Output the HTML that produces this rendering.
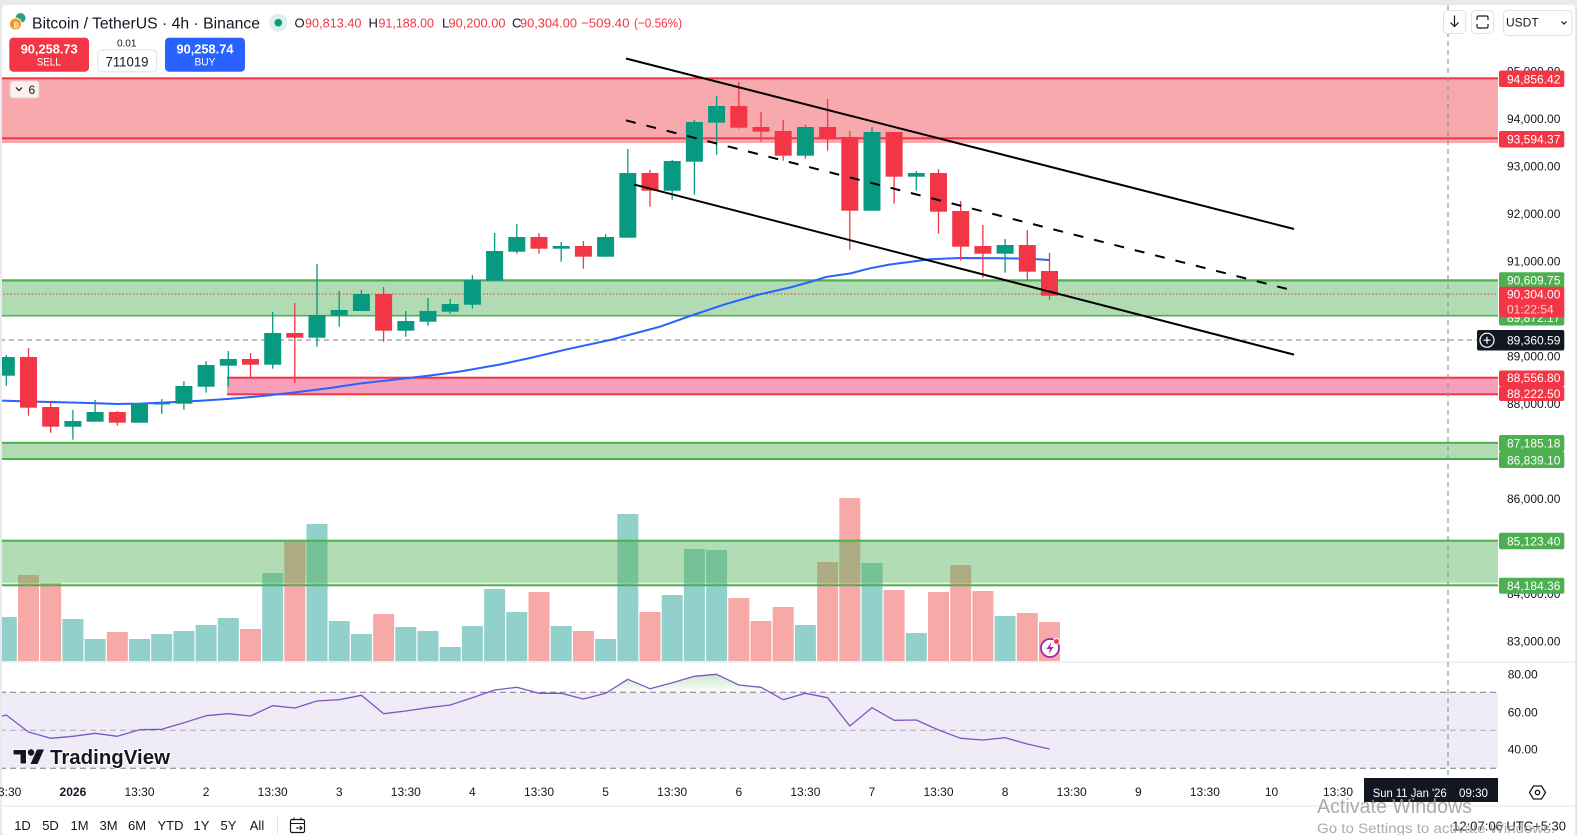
<!DOCTYPE html>
<html><head><meta charset="utf-8"><style>
html,body{margin:0;padding:0;width:1577px;height:835px;overflow:hidden;background:#fff}
svg{display:block}
text{font-family:"Liberation Sans",Arial,sans-serif}
</style></head><body>
<svg width="1577" height="835" viewBox="0 0 1577 835" xmlns="http://www.w3.org/2000/svg">
<defs>
<clipPath id="cp"><rect x="2" y="5" width="1496" height="657"/></clipPath>
<clipPath id="cr"><rect x="2" y="663" width="1496" height="107"/></clipPath>
<clipPath id="ob"><rect x="0" y="660" width="1498" height="32.3"/></clipPath>
<linearGradient id="og" gradientUnits="userSpaceOnUse" x1="0" y1="672" x2="0" y2="692.3">
<stop offset="0" stop-color="#4caf50" stop-opacity="0.32"/><stop offset="1" stop-color="#4caf50" stop-opacity="0.02"/></linearGradient>
</defs>
<rect x="0" y="0" width="1577" height="835" fill="#e9eaec"/>
<rect x="2" y="5" width="1573" height="830" rx="4" fill="#fff"/>

<g clip-path="url(#cp)">
<!-- volume -->
<g fill="#92d1cb">
<rect x="-4.2" y="617" width="21" height="44"/>
<rect x="62.4" y="619" width="21" height="42"/>
<rect x="84.6" y="639" width="21" height="22"/>
<rect x="129" y="639" width="21" height="22"/>
<rect x="151.2" y="634" width="21" height="27"/>
<rect x="173.4" y="631" width="21" height="30"/>
<rect x="195.6" y="625" width="21" height="36"/>
<rect x="217.8" y="618" width="21" height="43"/>
<rect x="262.2" y="573" width="21" height="88"/>
<rect x="306.5" y="524" width="21" height="137"/>
<rect x="328.7" y="621" width="21" height="40"/>
<rect x="350.9" y="634" width="21" height="27"/>
<rect x="395.3" y="627" width="21" height="34"/>
<rect x="417.5" y="631" width="21" height="30"/>
<rect x="439.7" y="647" width="21" height="14"/>
<rect x="461.9" y="626" width="21" height="35"/>
<rect x="484.1" y="589" width="21" height="72"/>
<rect x="506.3" y="612" width="21" height="49"/>
<rect x="550.7" y="626" width="21" height="35"/>
<rect x="595.1" y="639" width="21" height="22"/>
<rect x="617.3" y="514" width="21" height="147"/>
<rect x="661.7" y="595" width="21" height="66"/>
<rect x="683.9" y="549" width="21" height="112"/>
<rect x="706.1" y="550" width="21" height="111"/>
<rect x="794.9" y="625" width="21" height="36"/>
<rect x="861.5" y="563" width="21" height="98"/>
<rect x="905.8" y="633" width="21" height="28"/>
<rect x="994.6" y="616" width="21" height="45"/>
</g>
<g fill="#f7a9a8">
<rect x="18" y="575" width="21" height="86"/>
<rect x="40.2" y="583" width="21" height="78"/>
<rect x="106.8" y="632" width="21" height="29"/>
<rect x="240" y="629" width="21" height="32"/>
<rect x="284.3" y="541.7" width="21" height="119.3"/>
<rect x="373.1" y="614" width="21" height="47"/>
<rect x="528.5" y="592" width="21" height="69"/>
<rect x="572.9" y="631" width="21" height="30"/>
<rect x="639.5" y="612" width="21" height="49"/>
<rect x="728.3" y="598" width="21" height="63"/>
<rect x="750.5" y="621" width="21" height="40"/>
<rect x="772.7" y="607" width="21" height="54"/>
<rect x="817.1" y="562" width="21" height="99"/>
<rect x="839.3" y="498" width="21" height="163"/>
<rect x="883.6" y="590" width="21" height="71"/>
<rect x="928" y="592" width="21" height="69"/>
<rect x="950.2" y="565" width="21" height="96"/>
<rect x="972.4" y="591" width="21" height="70"/>
<rect x="1016.8" y="613" width="21" height="48"/>
<rect x="1039" y="622" width="21" height="39"/>
</g>

<!-- zones -->
<rect x="0" y="79" width="1498" height="64" fill="#f8a9ae"/>
<rect x="0" y="77.3" width="1498" height="2" fill="#f23645"/>
<rect x="0" y="137.3" width="1498" height="2" fill="#f23645"/>

<rect x="0" y="279" width="1498" height="35" fill="#b1dcb3"/>
<rect x="0" y="279.5" width="1498" height="2" fill="#4caf50"/>
<rect x="0" y="314.5" width="1498" height="2" fill="#4caf50"/>

<rect x="227" y="378" width="1271" height="16" fill="#f59fba"/>
<rect x="227" y="376.7" width="1271" height="2" fill="#f23645"/>
<rect x="227" y="393.3" width="1271" height="2" fill="#f23645"/>

<rect x="0" y="442" width="1498" height="16.5" fill="#b1dcb3"/>
<rect x="0" y="441.8" width="1498" height="2" fill="#4caf50"/>
<rect x="0" y="458" width="1498" height="2" fill="#4caf50"/>

<rect x="0" y="541" width="1498" height="41.7" fill="#4caf50" fill-opacity="0.43"/>
<rect x="0" y="582.7" width="1498" height="2" fill="#4caf50" fill-opacity="0.12"/>
<rect x="0" y="539.7" width="1498" height="2" fill="#4caf50"/>
<rect x="0" y="584.3" width="1498" height="2" fill="#4caf50"/>

<!-- price line & crosshair -->
<line x1="0" y1="294" x2="1498" y2="294" stroke="#f23645" stroke-width="1" stroke-dasharray="1.5 2"/>
<line x1="0" y1="340" x2="1477" y2="340" stroke="#9598a1" stroke-width="1.2" stroke-dasharray="5 4"/>

<!-- MA -->
<polyline fill="none" stroke="#2962ff" stroke-width="2" stroke-linejoin="round" points="0,400.5 30,401.5 60,402.3 90,403 117,404 140,403.6 170,402.3 200,400.8 227,399 260,396.3 290,393 330,388 360,383.5 400,379 430,375.5 460,371.5 500,364.5 530,358 567,349.3 610,340 640,332 660,326.7 690,316 725,304.3 757,295 790,287.5 810,282 827,276.7 850,273.5 870,268.3 890,264.5 917,261 930,259.3 960,258 1000,258.3 1030,258.7 1049,260"/>

<!-- candles green -->
<g fill="#089981">
<rect x="5.65" y="355" width="1.3" height="30.7"/><rect x="-2.2" y="357" width="17" height="18.7"/>
<rect x="72.25" y="410" width="1.3" height="29.7"/><rect x="64.4" y="421" width="17" height="5.7"/>
<rect x="94.45" y="400" width="1.3" height="21.7"/><rect x="86.6" y="412" width="17" height="9.7"/>
<rect x="138.85" y="403" width="1.3" height="19.7"/><rect x="131" y="403" width="17" height="19.7"/>
<rect x="161.05" y="399" width="1.3" height="14.7"/><rect x="153.2" y="403" width="17" height="1.5"/>
<rect x="183.25" y="381" width="1.3" height="28.7"/><rect x="175.4" y="386" width="17" height="17.7"/>
<rect x="205.45" y="361" width="1.3" height="31.7"/><rect x="197.6" y="365" width="17" height="21.7"/>
<rect x="227.65" y="351" width="1.3" height="35.7"/><rect x="219.8" y="359" width="17" height="6.7"/>
<rect x="272.05" y="312" width="1.3" height="56.7"/><rect x="264.2" y="333" width="17" height="31.7"/>
<rect x="316.35" y="264" width="1.3" height="82.7"/><rect x="308.5" y="315" width="17" height="22.7"/>
<rect x="338.55" y="291" width="1.3" height="35.7"/><rect x="330.7" y="310" width="17" height="5.7"/>
<rect x="360.75" y="290" width="1.3" height="21"/><rect x="352.9" y="294" width="17" height="17"/>
<rect x="405.15" y="311" width="1.3" height="25.7"/><rect x="397.3" y="321" width="17" height="9.7"/>
<rect x="427.35" y="298" width="1.3" height="27.7"/><rect x="419.5" y="311" width="17" height="10.7"/>
<rect x="449.55" y="299" width="1.3" height="14.7"/><rect x="441.7" y="304" width="17" height="7.7"/>
<rect x="471.75" y="275" width="1.3" height="33.7"/><rect x="463.9" y="280" width="17" height="24.7"/>
<rect x="493.95" y="233" width="1.3" height="47.7"/><rect x="486.1" y="251" width="17" height="29.7"/>
<rect x="516.15" y="224" width="1.3" height="29.7"/><rect x="508.3" y="237" width="17" height="14.7"/>
<rect x="560.55" y="242" width="1.3" height="19.7"/><rect x="552.7" y="246" width="17" height="2.7"/>
<rect x="604.95" y="234" width="1.3" height="22.7"/><rect x="597.1" y="237" width="17" height="19.7"/>
<rect x="627.15" y="149" width="1.3" height="88.7"/><rect x="619.3" y="173" width="17" height="64.7"/>
<rect x="671.55" y="160" width="1.3" height="39.7"/><rect x="663.7" y="161" width="17" height="29.7"/>
<rect x="693.75" y="120" width="1.3" height="74.7"/><rect x="685.9" y="122" width="17" height="39.7"/>
<rect x="715.95" y="96" width="1.3" height="58.7"/><rect x="708.1" y="106" width="17" height="16.7"/>
<rect x="804.75" y="125" width="1.3" height="33.7"/><rect x="796.9" y="127" width="17" height="28.7"/>
<rect x="871.35" y="127" width="1.3" height="83.7"/><rect x="863.5" y="132" width="17" height="78.7"/>
<rect x="915.65" y="171" width="1.3" height="19.7"/><rect x="907.8" y="173" width="17" height="3.7"/>
<rect x="1004.45" y="239" width="1.3" height="33.7"/><rect x="996.6" y="245" width="17" height="8.7"/>
</g>
<!-- candles red -->
<g fill="#f23645">
<rect x="27.85" y="348" width="1.3" height="67.7"/><rect x="20" y="357" width="17" height="50.7"/>
<rect x="50.05" y="402" width="1.3" height="30.7"/><rect x="42.2" y="407" width="17" height="19.7"/>
<rect x="116.65" y="411" width="1.3" height="14.7"/><rect x="108.8" y="412" width="17" height="10.7"/>
<rect x="249.85" y="353" width="1.3" height="24.7"/><rect x="242" y="359" width="17" height="5.7"/>
<rect x="294.15" y="303" width="1.3" height="79.7"/><rect x="286.3" y="333" width="17" height="4.7"/>
<rect x="382.95" y="287" width="1.3" height="54.7"/><rect x="375.1" y="294" width="17" height="36.7"/>
<rect x="538.35" y="233" width="1.3" height="20.7"/><rect x="530.5" y="237" width="17" height="11.7"/>
<rect x="582.75" y="241" width="1.3" height="27.7"/><rect x="574.9" y="246" width="17" height="10.7"/>
<rect x="649.35" y="170" width="1.3" height="36.7"/><rect x="641.5" y="173" width="17" height="17.7"/>
<rect x="738.15" y="82" width="1.3" height="46.7"/><rect x="730.3" y="106" width="17" height="21.7"/>
<rect x="760.35" y="112" width="1.3" height="29.7"/><rect x="752.5" y="127" width="17" height="4.7"/>
<rect x="782.55" y="120" width="1.3" height="40.7"/><rect x="774.7" y="131" width="17" height="24.7"/>
<rect x="826.95" y="99" width="1.3" height="51.7"/><rect x="819.1" y="127" width="17" height="12.3"/>
<rect x="849.15" y="131" width="1.3" height="118.7"/><rect x="841.3" y="137" width="17" height="73.7"/>
<rect x="893.45" y="132" width="1.3" height="71.7"/><rect x="885.6" y="132" width="17" height="44.7"/>
<rect x="937.85" y="169" width="1.3" height="64.7"/><rect x="930" y="173" width="17" height="38.7"/>
<rect x="960.05" y="201" width="1.3" height="59.7"/><rect x="952.2" y="211" width="17" height="35.7"/>
<rect x="982.25" y="225" width="1.3" height="52.7"/><rect x="974.4" y="246" width="17" height="7.7"/>
<rect x="1026.65" y="230" width="1.3" height="49.7"/><rect x="1018.8" y="245" width="17" height="26.7"/>
<rect x="1048.85" y="253" width="1.3" height="46.7"/><rect x="1041" y="271" width="17" height="24.7"/>
</g>

<!-- channel -->
<line x1="626" y1="58.5" x2="1294" y2="229" stroke="#000" stroke-width="2"/>
<line x1="626" y1="120.4" x2="1294" y2="290.7" stroke="#000" stroke-width="2" stroke-dasharray="10 11"/>
<line x1="634" y1="184.5" x2="1294" y2="354.6" stroke="#000" stroke-width="2"/>

<!-- lightning icon -->
<circle cx="1050" cy="648" r="9" fill="#fff" stroke="#9c27b0" stroke-width="1.8"/>
<path d="M1051.5 642 L1046.5 649 L1050 649 L1048.5 654.5 L1053.5 647 L1050 647 Z" fill="#9c27b0"/>
<circle cx="1056.5" cy="641.5" r="3" fill="#f23645" stroke="#fff" stroke-width="1"/>
</g>

<!-- pane dividers -->
<rect x="2" y="661.5" width="1575" height="1" fill="#e0e3eb"/>
<rect x="2" y="805.5" width="1575" height="1" fill="#e0e3eb"/>
<rect x="1576" y="5" width="1" height="830" fill="#e0e3eb"/>

<!-- RSI pane -->
<g clip-path="url(#cr)">
<rect x="0" y="692.3" width="1498" height="76" fill="#efecf8"/>
<line x1="0" y1="692.3" x2="1498" y2="692.3" stroke="#787b86" stroke-width="1" stroke-dasharray="6 4"/>
<line x1="0" y1="730.3" x2="1498" y2="730.3" stroke="#a9acb5" stroke-width="1" stroke-dasharray="6 4"/>
<line x1="0" y1="768.3" x2="1498" y2="768.3" stroke="#787b86" stroke-width="1" stroke-dasharray="6 4"/>
<polygon clip-path="url(#ob)" fill="url(#og)" points="0,692.3 0,716.7 6.3,715 28.5,732 50.7,738.3 72.9,736.3 95.1,733.3 117.3,736.3 139.5,729.7 161.7,729.3 183.9,722.7 206.1,715.7 228.3,713.7 250.5,716 272.7,705.7 294.8,708 317,701 339.2,699.7 361.4,695.3 383.6,713.7 405.8,711 428,707.7 450.2,705 472.4,697.7 494.6,690 516.8,687.3 539,693.3 561.2,693.3 583.4,699 605.6,693.3 627.8,679.3 650,688.7 672.2,682.7 694.4,676.3 716.6,674.3 738.8,685 761,687.3 783.2,699.7 805.4,693.3 827.6,697.7 849.8,726 872,707.7 894.1,720.3 916.3,720 938.5,730 960.7,738.3 982.9,740 1005.1,737.7 1027.3,744 1049.5,749 1049.5,692.3"/>
<polyline fill="none" stroke="#7e57c2" stroke-width="1.3" stroke-linejoin="round" points="0,716.7 6.3,715 28.5,732 50.7,738.3 72.9,736.3 95.1,733.3 117.3,736.3 139.5,729.7 161.7,729.3 183.9,722.7 206.1,715.7 228.3,713.7 250.5,716 272.7,705.7 294.8,708 317,701 339.2,699.7 361.4,695.3 383.6,713.7 405.8,711 428,707.7 450.2,705 472.4,697.7 494.6,690 516.8,687.3 539,693.3 561.2,693.3 583.4,699 605.6,693.3 627.8,679.3 650,688.7 672.2,682.7 694.4,676.3 716.6,674.3 738.8,685 761,687.3 783.2,699.7 805.4,693.3 827.6,697.7 849.8,726 872,707.7 894.1,720.3 916.3,720 938.5,730 960.7,738.3 982.9,740 1005.1,737.7 1027.3,744 1049.5,749"/>
</g>

<!-- TradingView watermark -->
<g>
<path d="M13 749.5 h13.5 v14.5 h-6.5 v-9 h-7 z" fill="#131722" stroke="#fff" stroke-width="1"/>
<circle cx="31" cy="752.5" r="3.2" fill="#131722"/>
<path d="M37 749.5 h7 l-6.5 14.5 h-7 z" fill="#131722"/>
<text x="50" y="764" font-size="20" font-weight="bold" fill="#131722" stroke="#fff" stroke-width="2" paint-order="stroke" textLength="120" lengthAdjust="spacingAndGlyphs">TradingView</text>
</g>

<!-- vertical crosshair -->
<line x1="1448" y1="5" x2="1448" y2="778" stroke="#9598a1" stroke-width="1.2" stroke-dasharray="5 4"/>

<!-- price axis ticks -->
<g font-size="12" fill="#131722">
<text x="1507" y="75.3">95,000.00</text>
<text x="1507" y="122.8">94,000.00</text>
<text x="1507" y="170.3">93,000.00</text>
<text x="1507" y="217.8">92,000.00</text>
<text x="1507" y="265.3">91,000.00</text>
<text x="1507" y="360.3">89,000.00</text>
<text x="1507" y="407.8">88,000.00</text>
<text x="1507" y="502.8">86,000.00</text>
<text x="1507" y="597.8">84,000.00</text>
<text x="1507" y="645.3">83,000.00</text>
</g>
<!-- price labels -->
<g font-size="12" fill="#fff">
<rect x="1499" y="70.5" width="65.3" height="16.5" rx="2" fill="#f23645"/><text x="1507" y="83.3">94,856.42</text>
<rect x="1499" y="131" width="65.3" height="16.5" rx="2" fill="#f23645"/><text x="1507" y="143.5">93,594.37</text>
<rect x="1499" y="272.3" width="65.3" height="16" rx="2" fill="#4caf50"/><text x="1507" y="284.5">90,609.75</text>
<rect x="1499" y="308.5" width="65.3" height="17" rx="2" fill="#4caf50"/><text x="1507" y="321.8">89,872.17</text>
<rect x="1499" y="286.7" width="65.3" height="30.6" rx="2" fill="#f23645"/>
<text x="1507" y="298.6">90,304.00</text>
<text x="1507" y="313.3" fill="#fbd0d4">01:22:54</text>
<rect x="1477" y="330" width="87.3" height="20.5" rx="2" fill="#131722"/>
<circle cx="1487" cy="340.2" r="7" fill="none" stroke="#fff" stroke-width="1.2"/>
<path d="M1483.5 340.2 h7 M1487 336.7 v7" stroke="#fff" stroke-width="1.2"/>
<text x="1507" y="344.6">89,360.59</text>
<rect x="1499" y="370.5" width="65.3" height="16" rx="2" fill="#f23645"/><text x="1507" y="382.2">88,556.80</text>
<rect x="1499" y="386.5" width="65.3" height="14.5" rx="2" fill="#f23645"/><text x="1507" y="397.8">88,222.50</text>
<rect x="1499" y="435" width="65.3" height="16.5" rx="2" fill="#4caf50"/><text x="1507" y="447.6">87,185.18</text>
<rect x="1499" y="451.5" width="65.3" height="16.5" rx="2" fill="#4caf50"/><text x="1507" y="464.6">86,839.10</text>
<rect x="1499" y="532.7" width="65.3" height="16.5" rx="2" fill="#4caf50"/><text x="1507" y="545.3">85,123.40</text>
<rect x="1499" y="577.7" width="65.3" height="16" rx="2" fill="#4caf50"/><text x="1507" y="590">84,184.36</text>
</g>
<!-- RSI axis -->
<g font-size="12" fill="#131722">
<text x="1507.7" y="678.3">80.00</text>
<text x="1507.7" y="716.3">60.00</text>
<text x="1507.7" y="753.3">40.00</text>
</g>

<!-- time axis -->
<g font-size="12" fill="#131722" text-anchor="middle">
<text x="6.3" y="796">13:30</text>
<text x="72.9" y="796" font-weight="bold">2026</text>
<text x="139.5" y="796">13:30</text>
<text x="206.1" y="796">2</text>
<text x="272.7" y="796">13:30</text>
<text x="339.2" y="796">3</text>
<text x="405.8" y="796">13:30</text>
<text x="472.4" y="796">4</text>
<text x="539" y="796">13:30</text>
<text x="605.6" y="796">5</text>
<text x="672.2" y="796">13:30</text>
<text x="738.8" y="796">6</text>
<text x="805.4" y="796">13:30</text>
<text x="872" y="796">7</text>
<text x="938.5" y="796">13:30</text>
<text x="1005.1" y="796">8</text>
<text x="1071.7" y="796">13:30</text>
<text x="1138.3" y="796">9</text>
<text x="1204.9" y="796">13:30</text>
<text x="1271.5" y="796">10</text>
<text x="1338" y="796">13:30</text>
</g>
<rect x="1364" y="778" width="134" height="24" fill="#131722"/>
<text x="1372.7" y="797" font-size="12" fill="#fff" textLength="74" lengthAdjust="spacingAndGlyphs">Sun 11 Jan '26</text>
<text x="1459" y="797" font-size="12" fill="#fff" textLength="29" lengthAdjust="spacingAndGlyphs">09:30</text>
<!-- settings hexagon -->
<path d="M1533.5 786 h8 l4 6.5 l-4 6.5 h-8 l-4 -6.5 z" fill="none" stroke="#131722" stroke-width="1.3"/>
<circle cx="1537.5" cy="792.5" r="2.2" fill="none" stroke="#131722" stroke-width="1.3"/>

<!-- header -->
<circle cx="20.5" cy="18" r="5" fill="#26a17b"/>
<circle cx="15.5" cy="24" r="6" fill="#f7931a" stroke="#fff" stroke-width="1"/>
<text x="13.3" y="27.3" font-size="7" fill="#fff" font-weight="bold">₿</text>
<text x="32" y="28.3" font-size="15.5" fill="#131722" textLength="228" lengthAdjust="spacingAndGlyphs">Bitcoin / TetherUS · 4h · Binance</text>
<circle cx="278.3" cy="22.7" r="9" fill="#d9f0ec"/>
<circle cx="278.3" cy="22.7" r="3.8" fill="#089981"/>
<g font-size="13">
<text x="294.5" y="27.5" fill="#131722">O</text>
<text x="305" y="27.5" fill="#f23645" textLength="56.5" lengthAdjust="spacingAndGlyphs">90,813.40</text>
<text x="368.5" y="27.5" fill="#131722">H</text>
<text x="378.5" y="27.5" fill="#f23645" textLength="55.5" lengthAdjust="spacingAndGlyphs">91,188.00</text>
<text x="442" y="27.5" fill="#131722">L</text>
<text x="448.5" y="27.5" fill="#f23645" textLength="57" lengthAdjust="spacingAndGlyphs">90,200.00</text>
<text x="512" y="27.5" fill="#131722">C</text>
<text x="520" y="27.5" fill="#f23645" textLength="57" lengthAdjust="spacingAndGlyphs">90,304.00</text>
<text x="581" y="27.5" fill="#f23645" textLength="48.5" lengthAdjust="spacingAndGlyphs">−509.40</text>
<text x="634" y="27.5" fill="#f23645" textLength="48" lengthAdjust="spacingAndGlyphs">(−0.56%)</text>
</g>
<rect x="9.3" y="37.7" width="79.7" height="34" rx="4" fill="#f23645"/>
<text x="49.2" y="53.3" font-size="13" font-weight="bold" fill="#fff" text-anchor="middle" textLength="57" lengthAdjust="spacingAndGlyphs">90,258.73</text>
<text x="48.7" y="65.7" font-size="11" fill="#fff" text-anchor="middle" textLength="24" lengthAdjust="spacingAndGlyphs">SELL</text>
<text x="126.7" y="46.5" font-size="10" fill="#131722" text-anchor="middle">0.01</text>
<rect x="97.7" y="50" width="59" height="21.7" rx="4" fill="#fff" stroke="#e0e3eb" stroke-width="1"/>
<text x="127" y="66.3" font-size="14" fill="#131722" text-anchor="middle" textLength="43" lengthAdjust="spacingAndGlyphs">711019</text>
<rect x="165" y="37.7" width="80" height="34" rx="4" fill="#2962ff"/>
<text x="205" y="53.3" font-size="13" font-weight="bold" fill="#fff" text-anchor="middle" textLength="57" lengthAdjust="spacingAndGlyphs">90,258.74</text>
<text x="205" y="65.7" font-size="11" fill="#fff" text-anchor="middle" textLength="21" lengthAdjust="spacingAndGlyphs">BUY</text>
<!-- collapse button -->
<rect x="10" y="81" width="29" height="17" rx="3" fill="#fdf0f1" stroke="#e6cdd0" stroke-width="1"/>
<path d="M16 87.5 l3 3 l3 -3" fill="none" stroke="#131722" stroke-width="1.2"/>
<text x="28.5" y="94" font-size="12" fill="#131722">6</text>
<!-- top right controls -->
<rect x="1443.5" y="10.5" width="22" height="23" rx="4" fill="#fff" stroke="#e0e3eb"/>
<path d="M1454.5 15.5 v11 M1450.5 22.5 l4 4 l4 -4" fill="none" stroke="#131722" stroke-width="1.2"/>
<rect x="1471.5" y="10.5" width="22" height="23" rx="4" fill="#fff" stroke="#e0e3eb"/>
<path d="M1477 20 v-2.5 a1.5 1.5 0 0 1 1.5 -1.5 h8 a1.5 1.5 0 0 1 1.5 1.5 v2.5 M1477 24 v2.5 a1.5 1.5 0 0 0 1.5 1.5 h8 a1.5 1.5 0 0 0 1.5 -1.5 v-2.5" fill="none" stroke="#131722" stroke-width="1.2"/>
<rect x="1503.5" y="10.5" width="68.5" height="25" rx="4" fill="#fff" stroke="#e0e3eb"/>
<text x="1506" y="26.7" font-size="12" fill="#131722">USDT</text>
<path d="M1561.5 21.5 l2.5 2.5 l2.5 -2.5" fill="none" stroke="#131722" stroke-width="1.2"/>

<!-- bottom toolbar -->
<g font-size="13" fill="#131722" text-anchor="middle">
<text x="22.5" y="830">1D</text>
<text x="50.5" y="830">5D</text>
<text x="79.5" y="830">1M</text>
<text x="108.5" y="830">3M</text>
<text x="137" y="830">6M</text>
<text x="170.5" y="830">YTD</text>
<text x="201.5" y="830">1Y</text>
<text x="228.5" y="830">5Y</text>
<text x="257" y="830">All</text>
</g>
<rect x="277" y="816" width="1" height="18" fill="#e0e3eb"/>
<rect x="290.5" y="819.5" width="14" height="13" rx="1.5" fill="none" stroke="#131722" stroke-width="1.2"/>
<path d="M290.5 823.5 h14 M294 817.5 v3 M301 817.5 v3 M296 828 h6 M300 826 l2 2 l-2 2" fill="none" stroke="#131722" stroke-width="1.1"/>
<text x="1566" y="830.5" font-size="13" fill="#131722" text-anchor="end">12:07:06 UTC+5:30</text>

<!-- windows watermark -->
<text x="1317" y="813" font-size="20" fill="#9c9c9c" fill-opacity="0.85" textLength="155" lengthAdjust="spacingAndGlyphs">Activate Windows</text>
<text x="1317" y="833" font-size="14" fill="#9c9c9c" fill-opacity="0.85" textLength="238" lengthAdjust="spacingAndGlyphs">Go to Settings to activate Windows.</text>
</svg>
</body></html>
